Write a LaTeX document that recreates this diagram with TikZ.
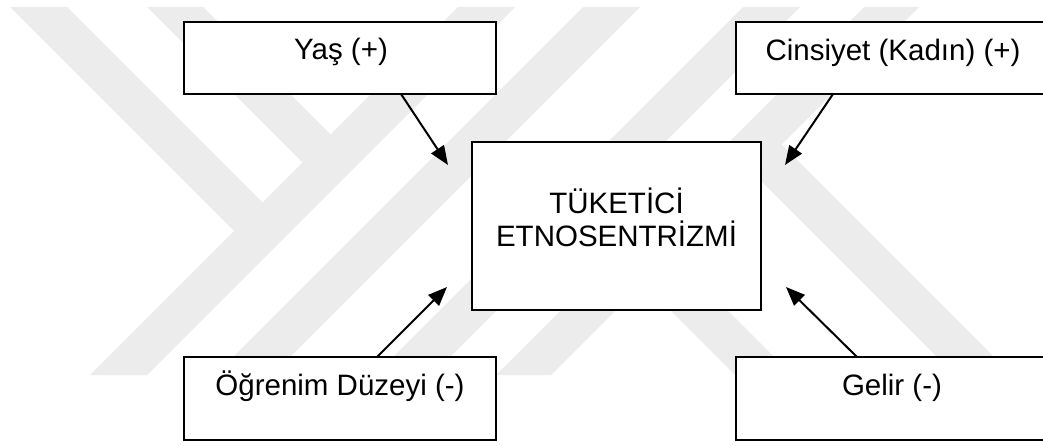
\documentclass[tikz,border=0pt]{standalone}
\usepackage{fontspec}
\setmainfont{Liberation Sans}
\usetikzlibrary{arrows.meta}
\definecolor{wm}{gray}{0.925}
\begin{document}
\begin{tikzpicture}[x=1pt,y=-1pt,
  box/.style={draw=black, line width=1.6pt, fill=white, minimum width=312pt, inner sep=0pt, outer sep=0pt},
  lbl/.style={anchor=base, inner sep=0pt, font=\fontsize{29.5}{33}\selectfont},
  arr/.style={line width=2pt, -{Triangle[length=19pt,width=15pt]}},
  band/.style={fill=wm, draw=none}]
\useasboundingbox (0,0) rectangle (1043,446);
\fill[white] (0,0) rectangle (1043,446);
% watermark bands
\fill[band] (90,375) -- (147,375) -- (515,7) -- (458,7) -- cycle;
\fill[band] (10,7) -- (67,7) -- (262.5,202.5) -- (234,231) -- cycle;
\fill[band] (147,7) -- (203,7) -- (330.5,134.5) -- (302.5,162.5) -- cycle;
\fill[band] (215,375) -- (272,375) -- (640,7) -- (583,7) -- cycle;
\fill[band] (375,375) -- (432,375) -- (800,7) -- (743,7) -- cycle;
\fill[band] (496,375) -- (551,375) -- (919,7) -- (864,7) -- cycle;
\fill[band] (753,173) -- (781.5,144.5) -- (1005,368) -- (948,368) -- cycle;
\fill[band] (643,283) -- (671.5,254.5) -- (792,375) -- (735,375) -- cycle;
% boxes
\node[box, minimum height=72pt] (yas) at (340,58) {};
\node[box, minimum height=72pt] (cins) at (892,58) {};
\node[box, minimum width=289pt, minimum height=168pt] (mid) at (616.5,226) {};
\node[box, minimum height=83pt] (ogr) at (340,398.5) {};
\node[box, minimum height=83pt] (gel) at (892,398.5) {};
% texts
\node[lbl] (yasT) at (341,60) {Yaş (+)};
\node[lbl] (cinsT) at (893,61) {Cinsiyet (Kadın) (+)};
\node[lbl] (midA) at (616.5,214) {TÜKETİCİ};
\node[lbl] (midB) at (616.5,247) {ETNOSENTRİZMİ};
\node[lbl] (ogrT) at (340,395) {Öğrenim Düzeyi (-)};
\node[lbl] (gelT) at (892,395) {Gelir (-)};
% arrows
\coordinate (tY) at (448,165);
\coordinate (tC) at (785,165);
\coordinate (tO) at (447,287);
\coordinate (tG) at (786,287);
\draw[arr] ([xshift=61pt]yas.south) -- (tY);
\draw[arr] ([xshift=-59pt]cins.south) -- (tC);
\draw[arr] ([xshift=37pt]ogr.north) -- (tO);
\draw[arr] ([xshift=-35pt]gel.north) -- (tG);
\end{tikzpicture}
\end{document}
